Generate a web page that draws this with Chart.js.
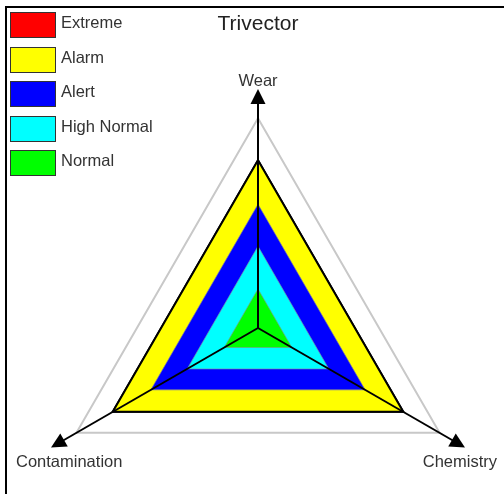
<!DOCTYPE html>
<html lang="en">
<head>
  <meta charset="UTF-8" />
  <title>Trivector</title>
  <script src="https://cdn.jsdelivr.net/npm/chart.js"></script>
  <style>
    html, body {
      margin: 0;
      padding: 0;
      width: 504px;
      height: 494px;
      overflow: hidden;
      background: #fff;
      font-family: Arial, "Liberation Sans", sans-serif;
    }
    #frame {
      position: absolute;
      left: 5px;
      top: 6px;
      width: 520px;
      height: 520px;
      border-top: 2px solid #000;
      border-left: 2px solid #000;
    }
    #chart {
      position: absolute;
      left: 0;
      top: 0;
    }
    #title {
      position: absolute;
      left: 158px;
      width: 200px;
      top: 11px;
      text-align: center;
      font-size: 21px;
      color: #222;
    }
    .item {
      position: absolute;
      left: 10px;
      height: 26px;
    }
    .item .box {
      position: absolute;
      left: 0;
      top: 0;
      width: 44px;
      height: 24px;
      border: 1px solid #333;
    }
    .item .txt {
      position: absolute;
      left: 51px;
      top: 0px;
      font-size: 16.5px;
      line-height: 20px;
      color: #333;
      white-space: nowrap;
    }
  </style>
</head>
<body>
  <div id="frame"></div>
  <canvas id="chart" width="504" height="600"></canvas>
  <div id="title">Trivector</div>
  <div id="legend"></div>

  <script>
    const axisLabels = ['Wear', 'Chemistry', 'Contamination'];
    const bandNames = ['Extreme', 'Alarm', 'Alert', 'High Normal', 'Normal'];
    const bandColors = ['#ff0000', '#ffff00', '#0000ff', '#00ffff', '#00ff00'];
    const extremeValues = [4, 4, 4];
    const alarmValues = [4, 4, 4];
    const alertValues = [2.95, 2.95, 2.95];
    const highNormalValues = [1.95, 1.95, 1.95];
    const normalValues = [0.93, 0.93, 0.93];
    const scaleMax = 5.7;
    const outerRing = 5;

    // legend
    const legend = document.getElementById('legend');
    bandNames.forEach((name, i) => {
      const item = document.createElement('div');
      item.className = 'item';
      item.style.top = (12 + i * 34.5) + 'px';
      item.innerHTML = '<div class="box" style="background:' + bandColors[i] + '"></div><div class="txt">' + name + '</div>';
      legend.appendChild(item);
    });

    const axesPlugin = {
      id: 'axes',
      afterDatasetsDraw(chart) {
        const scale = chart.scales.r;
        const ctx = chart.ctx;
        const cx = scale.xCenter, cy = scale.yCenter;
        ctx.save();
        chart.data.labels.forEach((label, i) => {
          const tip = scale.getPointPosition(i, scale.drawingArea);
          const dx = tip.x - cx, dy = tip.y - cy;
          const len = Math.sqrt(dx * dx + dy * dy);
          const ux = dx / len, uy = dy / len;
          const head = 15, half = 7.5;
          const bx = tip.x - ux * head, by = tip.y - uy * head;
          ctx.strokeStyle = '#000';
          ctx.lineWidth = 2;
          ctx.beginPath();
          ctx.moveTo(cx, cy);
          ctx.lineTo(bx + ux * 2, by + uy * 2);
          ctx.stroke();
          ctx.fillStyle = '#000';
          ctx.beginPath();
          ctx.moveTo(tip.x, tip.y);
          ctx.lineTo(bx - uy * half, by + ux * half);
          ctx.lineTo(bx + uy * half, by - ux * half);
          ctx.closePath();
          ctx.fill();

          // axis label
          ctx.font = '16.5px Arial, "Liberation Sans", sans-serif';
          ctx.fillStyle = '#333';
          ctx.textAlign = 'center';
          ctx.textBaseline = 'middle';
          const w = ctx.measureText(label).width;
          let lx = tip.x;
          lx = Math.max(16 + w / 2, Math.min(497 - w / 2, lx));
          const ly = dy < 0 ? tip.y - 8 : tip.y + 15;
          ctx.fillText(label, lx, ly);
        });
        ctx.restore();
      }
    };

    const values = [extremeValues, alarmValues, alertValues, highNormalValues, normalValues];
    const borders = ['#000', '#000', 'rgba(120,120,170,0.7)', 'rgba(120,150,170,0.7)', 'rgba(120,160,120,0.7)'];
    const widths = [2, 2, 1, 1, 1];

    const chart = new Chart(document.getElementById('chart'), {
      type: 'radar',
      data: {
        labels: axisLabels,
        datasets: bandNames.map((name, i) => ({
          label: name,
          data: values[i],
          backgroundColor: bandColors[i],
          borderColor: borders[i],
          borderWidth: widths[i],
          pointRadius: 0,
          fill: true,
          order: bandNames.length - i
        }))
      },
      options: {
        responsive: false,
        animation: false,
        layout: { padding: { left: 19, right: 7, top: 89, bottom: 33 } },
        elements: { line: { tension: 0 } },
        plugins: {
          legend: { display: false },
          title: { display: false },
          tooltip: { enabled: false }
        },
        scales: {
          r: {
            min: 0,
            max: scaleMax,
            ticks: { display: false, stepSize: 1 },
            pointLabels: { display: false },
            angleLines: { display: false },
            grid: {
              lineWidth: 2,
              color: (c) => (c.tick && c.tick.value === outerRing) ? '#c8c8c8' : 'rgba(0,0,0,0)'
            }
          }
        }
      },
      plugins: [axesPlugin]
    });
  </script>
</body>
</html>
